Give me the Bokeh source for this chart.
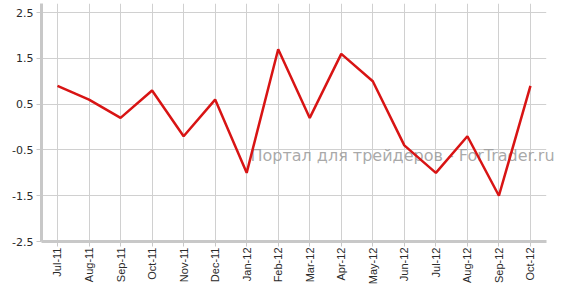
from bokeh.plotting import figure
from bokeh.models import Range1d, FixedTicker, Label, BoxAnnotation
from bokeh.embed import file_html
from bokeh.resources import INLINE
import math

months = ["Jul-11", "Aug-11", "Sep-11", "Oct-11", "Nov-11", "Dec-11", "Jan-12", "Feb-12",
          "Mar-12", "Apr-12", "May-12", "Jun-12", "Jul-12", "Aug-12", "Sep-12", "Oct-12"]
values = [0.9, 0.6, 0.2, 0.8, -0.2, 0.6, -1.0, 1.7, 0.2, 1.6, 1.0, -0.4, -1.0, -0.2, -1.5, 0.9]
y_ticks = [-2.5, -1.5, -0.5, 0.5, 1.5, 2.5]
y_tick_labels = ["-2.5", "-1.5", "-0.5", "0.5", "1.5", "2.5"]
watermark = "Портал для трейдеров - ForTrader.ru"

FONT = "DejaVu Sans"
idx = list(range(len(months)))

p = figure(x_range=Range1d(-0.507, 16.175), y_range=Range1d(-2.5, 2.7),
           width=567, height=285, frame_width=526, frame_height=238,
           min_border_left=41, min_border_right=0, min_border_top=3, min_border_bottom=44,
           output_backend="svg", toolbar_location=None)
p.outline_line_color = None
p.background_fill_color = "white"

p.xgrid.grid_line_color = "#d0d0d0"
p.ygrid.grid_line_color = "#d0d0d0"

# blank out the part of the frame to the right of the last category slot
p.add_layout(BoxAnnotation(left=len(months) - 0.5, fill_color="white", fill_alpha=1.0,
                           line_color=None, level="underlay"))

p.add_layout(Label(x=6.12, y=-0.63, text=watermark, text_font=FONT, text_font_size="16px",
                   text_color="#9a9a9a", text_alpha=0.85, text_baseline="middle"))

p.line(idx, values, line_color="#d81414", line_width=2.5, level="overlay")

p.xaxis.ticker = FixedTicker(ticks=idx)
p.xaxis.major_label_overrides = {i: m for i, m in zip(idx, months)}
p.xaxis.bounds = (-0.5, len(months) - 0.5)
p.yaxis.ticker = FixedTicker(ticks=y_ticks)
p.yaxis.major_label_overrides = {t: l for t, l in zip(y_ticks, y_tick_labels)}
for ax in (p.xaxis, p.yaxis):
    ax.axis_line_color = "#c8c8c8"
    ax.axis_line_width = 3
    ax.major_tick_line_color = "#c8c8c8"
    ax.major_tick_out = 5
    ax.major_tick_in = 0
    ax.minor_tick_line_color = None
    ax.major_label_text_color = "#2a2a2a"
p.yaxis.major_label_text_font = FONT
p.yaxis.major_label_text_font_size = "11px"
p.yaxis.major_label_standoff = 3
p.xaxis.major_label_text_font = "Liberation Sans"
p.xaxis.major_label_text_font_size = "11px"
p.xaxis.major_label_orientation = math.pi / 2
p.xaxis.major_label_standoff = 1

open("out.html", "w").write(file_html(p, INLINE))
